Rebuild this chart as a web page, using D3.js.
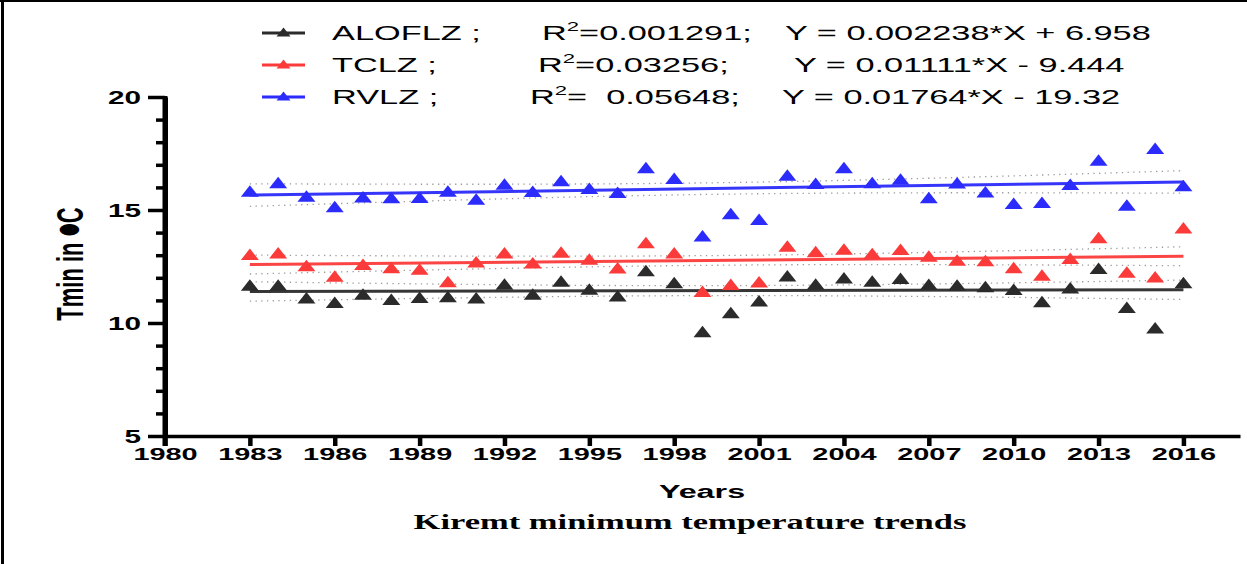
<!DOCTYPE html>
<html><head><meta charset="utf-8">
<script src="https://cdn.jsdelivr.net/npm/d3@7"></script>
<style>body{margin:0;background:#fff} svg{display:block} text{white-space:pre}</style>
</head><body><svg id="c" width="1247" height="564"></svg>
<script>
// ---------- data ----------
const years = [1983,1984,1985,1986,1987,1988,1989,1990,1991,1992,1993,1994,1995,1996,1997,1998,1999,2000,
               2001,2002,2003,2004,2005,2006,2007,2008,2009,2010,2011,2012,2013,2014,2015,2016];
const seriesNames = ["ALOFLZ", "TCLZ", "RVLZ"];
const aloflz = [11.68,11.68,11.12,10.92,11.28,11.05,11.14,11.17,11.12,11.73,11.28,11.86,11.50,11.21,12.32,11.79,
                9.62,10.46,10.99,12.09,11.73,12.00,11.86,11.98,11.71,11.68,11.61,11.49,10.95,11.56,12.42,10.70,9.79,11.79];
const tclz   = [13.04,13.11,12.54,12.08,12.60,12.46,12.39,11.84,12.71,13.11,12.67,13.14,12.83,12.45,13.56,13.11,
                11.40,11.71,11.83,13.41,13.16,13.27,13.08,13.26,12.96,12.79,12.76,12.46,12.12,12.86,13.78,12.26,12.05,14.22];
const rvlz   = [15.84,16.22,15.62,15.15,15.59,15.55,15.56,15.84,15.49,16.15,15.83,16.31,15.96,15.78,16.88,16.40,
                13.86,14.85,14.59,16.55,16.18,16.88,16.22,16.37,15.55,16.21,15.81,15.30,15.34,16.14,17.21,15.22,17.73,16.08];
const slopes     = [0.002238, 0.01111, 0.01764];
const intercepts = [6.958, -9.444, -19.32];
const nameLabels = ["ALOFLZ ;", "TCLZ ;", "RVLZ ;"];
const r2Labels   = ["=0.001291;", "=0.03256;", "=  0.05648;"];
const eqLabels   = ["Y = 0.002238*X + 6.958", "Y = 0.01111*X - 9.444", "Y = 0.01764*X - 19.32"];
const xTickValues = [1980,1983,1986,1989,1992,1995,1998,2001,2004,2007,2010,2013,2016];
const yMajorTicks = [5,10,15,20];
const yMinorTicks = [6,7,8,9,11,12,13,14,16,17,18,19];
const xTitle = "Years";
const chartTitle = "Kiremt minimum temperature trends";

// ---------- layout ----------
const series = [aloflz, tclz, rvlz];
const colors = ["#2b2b2b", "#fb3a3a", "#2b2bfb"];
const K = 1.7; // horizontal stretch of the original figure
const svg = d3.select("#c");
const x = d3.scaleLinear().domain([1980, 2018]).range([165, 1240]);
const y = d3.scaleLinear().domain([5, 20]).range([436, 97]);
const sans = "'Liberation Sans', Arial, sans-serif";

// frame
svg.append("line").attr("x1",2.5).attr("x2",2.5).attr("y1",0).attr("y2",564).attr("stroke","#000").attr("stroke-width",3);
svg.append("line").attr("x1",0).attr("x2",1247).attr("y1",1).attr("y2",1).attr("stroke","#000").attr("stroke-width",2);

const triPath = (w, h) => `M0,${-h/2}L${w/2},${h/2}L${-w/2},${h/2}Z`;

// confidence bands (dotted)
const n = years.length, xbar = d3.mean(years);
const Sxx = d3.sum(years, v => (v - xbar) ** 2);
const tval = 2.037;
series.forEach((vals, si) => {
  const f = X => slopes[si] * X + intercepts[si];
  const sse = d3.sum(vals, (v, i) => (v - f(years[i])) ** 2);
  const s = Math.sqrt(sse / (n - 2));
  [1, -1].forEach(sign => {
    const line = d3.line().x(X => x(X)).y(X => y(f(X) + sign * tval * s * Math.sqrt(1/n + (X - xbar) ** 2 / Sxx)));
    svg.append("path").attr("d", line(years)).attr("fill","none")
      .attr("stroke","#9a9a9a").attr("stroke-width",1.3).attr("stroke-dasharray","1.3,4.4");
  });
});

// regression lines
series.forEach((vals, si) => {
  const f = X => slopes[si] * X + intercepts[si];
  const ends = [years[0], years[years.length - 1]];
  svg.append("path").attr("d", d3.line().x(X => x(X)).y(X => y(f(X)))(ends))
    .attr("fill","none").attr("stroke", colors[si]).attr("stroke-width", 3).attr("opacity", 0.95);
});

// points
series.forEach((vals, si) => {
  svg.append("g").selectAll("path").data(vals).join("path")
    .attr("d", triPath(18, 11.5))
    .attr("transform", (d, i) => `translate(${x(years[i])},${y(d)})`)
    .attr("fill", colors[si]);
});

// axes
function stretch(sel) {
  sel.each(function() {
    const t = d3.select(this);
    const xx = +t.attr("x") || 0;
    t.attr("x", xx / K).attr("transform", `scale(${K},1)`);
  });
}
const xAxis = svg.append("g").attr("transform", `translate(0,${y(5)})`)
  .call(d3.axisBottom(x).tickValues(xTickValues).tickFormat(d3.format("d")).tickSize(10).tickSizeOuter(0).tickPadding(2));
xAxis.selectAll("text").attr("font-family", sans).attr("font-weight","bold").attr("font-size",17).attr("fill","#000");
xAxis.call(g => g.selectAll("text").call(stretch));

const yAxis = svg.append("g").attr("transform", `translate(${x(1980)},0)`)
  .call(d3.axisLeft(y).tickValues(yMajorTicks).tickSize(17).tickSizeOuter(0).tickPadding(7));
yAxis.selectAll("text").attr("font-family", sans).attr("font-weight","bold").attr("font-size",17.5).attr("fill","#000")
  .attr("dy","0.36em");
yAxis.call(g => g.selectAll("text").call(stretch));
const yMinor = svg.append("g").attr("transform", `translate(${x(1980)},0)`)
  .call(d3.axisLeft(y).tickValues(yMinorTicks).tickSize(9).tickSizeOuter(0).tickFormat(""));
yMinor.select(".domain").remove();
xAxis.selectAll("line").attr("stroke","#000").attr("stroke-width",4.5);
xAxis.select(".domain").attr("stroke","#000").attr("stroke-width",3.5);
[yAxis, yMinor].forEach(g => g.selectAll("line").attr("stroke","#000").attr("stroke-width",3.5));
yAxis.select(".domain").attr("stroke","#000").attr("stroke-width",5);
svg.append("line").attr("x1", x(1980)).attr("x2", x(1980)).attr("y1", y(20) - 1).attr("y2", y(5) + 10)
  .attr("stroke","#000").attr("stroke-width",5);

// axis titles
svg.append("text").attr("transform", `translate(702,498) scale(${K},1)`)
  .attr("text-anchor","middle").attr("font-family", sans).attr("font-weight","bold").attr("font-size",19).text(xTitle);
svg.append("text").attr("transform", `translate(690,529) scale(${K},1)`)
  .attr("text-anchor","middle").attr("font-family","'Liberation Serif', 'Times New Roman', serif")
  .attr("font-weight","bold").attr("font-size",20.3).text(chartTitle);
const yt = svg.append("text").attr("transform", `translate(83,264) scale(${K},1) rotate(-90)`)
  .attr("text-anchor","middle").attr("font-family", sans).attr("font-weight","bold").attr("font-size",22);
yt.append("tspan").text("Tmin in ");
yt.append("tspan").attr("font-family","'DejaVu Sans', sans-serif").attr("font-size",15).attr("dy",-4).text("●");
yt.append("tspan").attr("dy",4).text("C");

// legend
const rowY = [40, 72, 104];
const r2X = [542, 538, 530];
const eqX = [785, 794, 782];
series.forEach((vals, si) => {
  const g = svg.append("g");
  const cy = rowY[si] - 7;
  g.append("line").attr("x1",262).attr("x2",305).attr("y1",cy).attr("y2",cy).attr("stroke",colors[si]).attr("stroke-width",3);
  g.append("path").attr("d", triPath(14, 9)).attr("transform", `translate(283.5,${cy - 1})`).attr("fill", colors[si]);
  const txt = (xx) => g.append("text").attr("transform", `translate(${xx},${rowY[si]}) scale(${K},1)`)
    .attr("font-family", sans).attr("font-size",20.2).attr("fill","#000");
  txt(332).text(nameLabels[si]);
  const r = txt(r2X[si]);
  r.append("tspan").text("R");
  r.append("tspan").attr("font-size",13).attr("dy",-9).text("2");
  r.append("tspan").attr("dy",9).text(r2Labels[si]);
  txt(eqX[si]).text(eqLabels[si]);
});
</script></body></html>
